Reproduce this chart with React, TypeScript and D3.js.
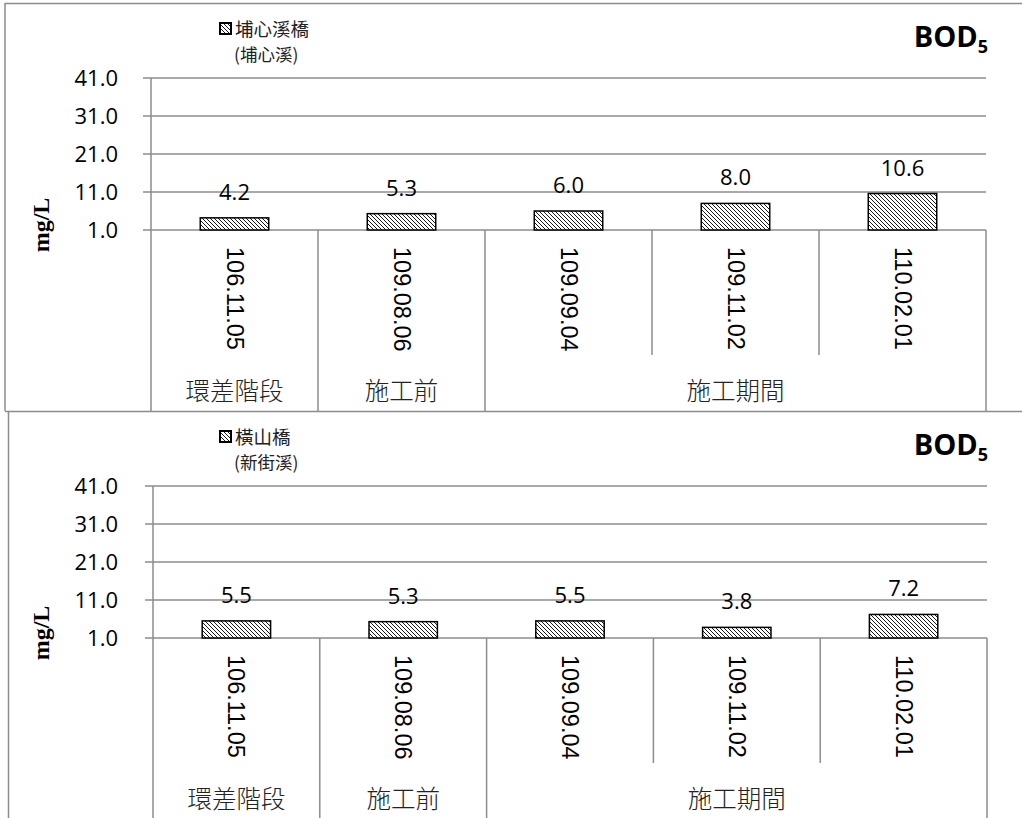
import React from 'react';
import * as d3 from 'd3';

const categories = ['106.11.05', '109.08.06', '109.09.04', '109.11.02', '110.02.01'];
const groupNames = ['環差階段', '施工前', '施工期間'];
const groupSpans = [1, 1, 3];
const yTicks = [1, 11, 21, 31, 41];
const puxinValues = [4.2, 5.3, 6.0, 8.0, 10.6];
const hengshanValues = [5.5, 5.3, 5.5, 3.8, 7.2];

const GRID = '#8c8c8c';
const NUM_FONT = "'Open Sans', 'Liberation Sans', sans-serif";
const CJK_FONT = "'Noto Sans CJK TC', 'Noto Sans CJK SC', sans-serif";

type ChartProps = {
  oy: number;
  left: number;
  right: number;
  values: number[];
  station: string;
  river: string;
  bottomEdge: number;
  patternId: string;
};

function Chart({ oy, left, right, values, station, river, bottomEdge, patternId }: ChartProps) {
  const yTop = oy + 78;
  const yBase = oy + 230;
  const x = d3.scaleBand<string>().domain(categories).range([left, right]).paddingInner(0).paddingOuter(0);
  const y = d3.scaleLinear().domain([1, 41]).range([yBase, yTop]);
  const bw = x.bandwidth();
  const barW = bw * 0.41;

  const groupBounds: number[] = [left];
  let acc = 0;
  groupSpans.forEach((s) => {
    acc += s;
    groupBounds.push(left + acc * bw);
  });
  const innerBounds: number[] = [];
  for (let i = 1; i < categories.length; i++) {
    const xb = left + i * bw;
    if (!groupBounds.some((g) => Math.abs(g - xb) < 0.5)) innerBounds.push(xb);
  }

  return (
    <g>
      <defs>
        <pattern id={patternId} patternUnits="userSpaceOnUse" width={4} height={4}>
          <rect width={4} height={4} fill="#fff" />
          <path d="M-1,-1 L5,5 M-1,3 L1,5 M3,-1 L5,1" stroke="#000" strokeWidth={0.9} />
        </pattern>
      </defs>
      {yTicks.map((t) => (
        <line key={t} x1={left - 8} x2={right} y1={y(t)} y2={y(t)} stroke={GRID} strokeWidth={1.5} />
      ))}
      <line x1={left} x2={left} y1={yTop} y2={bottomEdge} stroke={GRID} strokeWidth={1.5} />
      {yTicks.map((t) => (
        <text key={'l' + t} x={118} y={y(t) + 8} textAnchor="end" fontFamily={NUM_FONT} fontSize={22} fill="#000">
          {t.toFixed(1)}
        </text>
      ))}
      {groupBounds.slice(1).map((gx, i) => (
        <line key={'g' + i} x1={gx} x2={gx} y1={yBase} y2={bottomEdge} stroke={GRID} strokeWidth={1.5} />
      ))}
      {innerBounds.map((ix, i) => (
        <line key={'i' + i} x1={ix} x2={ix} y1={yBase} y2={yBase + 125} stroke={GRID} strokeWidth={1.5} />
      ))}
      {values.map((v, i) => {
        const cx = (x(categories[i]) as number) + bw / 2;
        return (
          <g key={'b' + i}>
            <rect
              x={cx - barW / 2}
              y={y(v)}
              width={barW}
              height={yBase - y(v)}
              fill={`url(#${patternId})`}
              stroke="#000"
              strokeWidth={1.5}
            />
            <text x={cx} y={y(v) - 18} textAnchor="middle" fontFamily={NUM_FONT} fontSize={22} fill="#000">
              {v.toFixed(1)}
            </text>
          </g>
        );
      })}
      {categories.map((c) => {
        const cx = (x(c) as number) + bw / 2;
        const ty = yBase + 17;
        return (
          <text
            key={'c' + c}
            x={cx}
            y={ty}
            transform={`rotate(90, ${cx}, ${ty})`}
            textAnchor="start"
            dominantBaseline="central"
            fontFamily="'Liberation Sans', Arial, sans-serif"
            fontSize={23.5}
            fill="#000"
          >
            {c}
          </text>
        );
      })}
      {groupNames.map((g, i) => {
        const cx = (groupBounds[i] + groupBounds[i + 1]) / 2;
        return (
          <text key={'gn' + i} x={cx} y={oy + 400} textAnchor="middle" fontFamily={CJK_FONT} fontSize={24.5} fontWeight={300} fill="#222">
            {g}
          </text>
        );
      })}
      <text
        x={41}
        y={oy + 225}
        transform={`rotate(-90, 41, ${oy + 225})`}
        textAnchor="middle"
        dominantBaseline="central"
        fontFamily="'Liberation Serif', 'DejaVu Serif', serif"
        fontWeight="bold"
        fontSize={24}
        fill="#000"
      >
        mg/L
      </text>
      <rect x={220} y={oy + 23} width={11} height={11} fill={`url(#${patternId})`} stroke="#000" strokeWidth={2} />
      <text x={235} y={oy + 36} fontFamily={CJK_FONT} fontSize={18.5} fill="#222">
        {station}
      </text>
      <text x={234} y={oy + 61} fontFamily={CJK_FONT} fontSize={17.5} fill="#222">
        {'(' + river + ')'}
      </text>
      <text x={988} y={oy + 47} textAnchor="end" fontFamily={NUM_FONT} fontWeight="bold" fontSize={29} fill="#000">
        BOD
        <tspan fontSize={18} dy={6}>5</tspan>
      </text>
    </g>
  );
}

export default function App() {
  return (
    <svg width={1022} height={818} style={{ position: 'absolute', left: 0, top: 0, background: '#fff' }}>
      <rect x={0} y={0} width={1022} height={818} fill="#fff" />
      <Chart oy={0} left={151} right={986} values={puxinValues} station="埔心溪橋" river="埔心溪" bottomEdge={411} patternId="hatchA" />
      <line x1={5} x2={5} y1={3} y2={411} stroke={GRID} strokeWidth={1.5} />
      <line x1={5} x2={1022} y1={3.5} y2={3.5} stroke={GRID} strokeWidth={1.5} />
      <Chart oy={408} left={153} right={987} values={hengshanValues} station="橫山橋" river="新街溪" bottomEdge={818} patternId="hatchB" />
      <line x1={5} x2={1022} y1={411.5} y2={411.5} stroke={GRID} strokeWidth={1.5} />
      <line x1={8.5} x2={8.5} y1={411.5} y2={818} stroke={GRID} strokeWidth={1.5} />
    </svg>
  );
}
